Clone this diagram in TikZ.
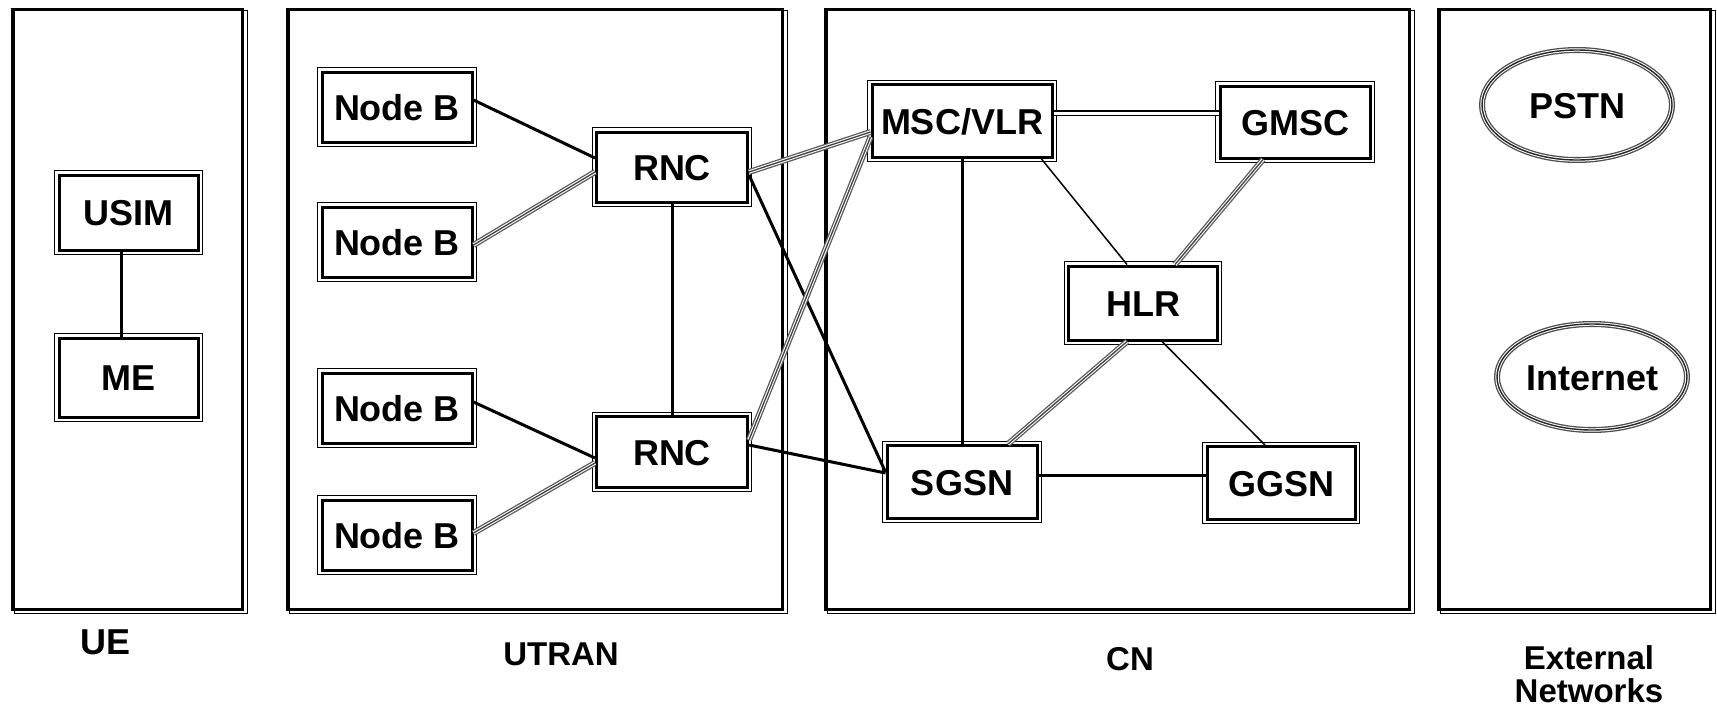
\documentclass[tikz,border=0pt]{standalone}
\usepackage{fontspec}
\setmainfont{Liberation Sans}
\usetikzlibrary{shapes.geometric}
\tikzset{
  frame/.style={draw, line width=3pt, inner sep=0pt},
  framecopy/.style={draw, line width=0.8pt},
  box/.style={draw, line width=3pt, fill=white, inner sep=0pt,
    text height=26pt, text depth=0pt,
    font=\fontsize{36}{40}\selectfont\bfseries},
  boxcopy/.style={draw, line width=0.9pt},
  net/.style={ellipse, draw=black!70, line width=6pt, fill=white, inner sep=0pt,
    text height=26pt, text depth=0pt,
    postaction={draw=white, line width=3.4pt},
    postaction={draw=black!85, line width=1.4pt},
    font=\fontsize{36}{40}\selectfont\bfseries},
  lbl/.style={align=center, inner sep=0pt, font=\fontsize{33}{33}\selectfont\bfseries},
  solidlink/.style={draw, line width=3pt},
  thinlink/.style={draw, line width=1.5pt},
  stripelink/.style={draw=black!65, line width=6pt,
    postaction={draw=white, line width=3.4pt},
    postaction={draw=black!75, line width=1.3pt}},
  dbllink/.style={draw, double, double distance=3pt, line width=1.3pt},
}
\begin{document}
\begin{tikzpicture}[x=1pt, y=-1pt]
\useasboundingbox (0,0) rectangle (1717,715);
\fill[white] (0,0) rectangle (1717,715);

% frames
\node[frame, minimum width=230pt, minimum height=600pt] (ueF) at (127,309) {};
\node[frame, minimum width=495pt, minimum height=600pt] (utranF) at (534.5,309) {};
\node[frame, minimum width=584pt, minimum height=600pt] (cnF) at (1117,309) {};
\node[frame, minimum width=272pt, minimum height=600pt] (extF) at (1574,309) {};
\foreach \f in {ueF,utranF,cnF,extF}
  \draw[framecopy] ([shift={(3.5,2.5)}]\f.north west) rectangle ([shift={(3.5,2.5)}]\f.south east);

% frame labels
\node[lbl, font=\fontsize{36}{38}\selectfont\bfseries] (ueL) at (106,642) {UE};
\node[lbl] (utranL) at (561,654) {UTRAN};
\node[lbl] (cnL) at (1130,659) {CN};
\node[lbl] (extL) at (1589,674) {External\\Networks};

% nodes
\node[box, minimum width=139pt, minimum height=75pt] (usim) at (128.5,212.5) {USIM};
\node[box, minimum width=139pt, minimum height=79pt] (me) at (128.5,377.5) {ME};

\node[box, minimum width=150pt, minimum height=70pt] (nb1) at (397,107) {Node B};
\node[box, minimum width=150pt, minimum height=70pt] (nb2) at (397,242) {Node B};
\node[box, minimum width=150pt, minimum height=70pt] (nb3) at (397,408) {Node B};
\node[box, minimum width=150pt, minimum height=70pt] (nb4) at (397,535) {Node B};

\node[box, minimum width=151pt, minimum height=70pt] (rnc1) at (672,167) {RNC};
\node[box, minimum width=151pt, minimum height=71pt] (rnc2) at (672,452) {RNC};

\node[box, minimum width=180pt, minimum height=73pt] (msc) at (962,121) {MSC/VLR};
\node[box, minimum width=150pt, minimum height=72pt] (gmsc) at (1295,122) {GMSC};
\node[box, minimum width=149pt, minimum height=74pt] (hlr) at (1143,303) {HLR};
\node[box, minimum width=150pt, minimum height=73pt] (sgsn) at (962,482) {SGSN};
\node[box, minimum width=148pt, minimum height=73pt] (ggsn) at (1281,483) {GGSN};

\foreach \n in {usim,me,nb1,nb2,nb3,nb4,rnc1,rnc2,msc,gmsc,hlr,sgsn,ggsn}
  \draw[boxcopy] ([shift={(-3,-3)}]\n.north west) rectangle ([shift={(2.5,2.5)}]\n.south east);

\node[net, minimum width=190pt, minimum height=110pt] (pstn) at (1577,105) {PSTN};
\node[net, minimum width=190pt, minimum height=106pt] (inet) at (1592,377) {Internet};

% connectors
\draw[solidlink] ([xshift=-7pt]usim.south) -- ([xshift=-7pt]me.north);

\draw[solidlink] ([yshift=7pt]nb1.east) -- ([yshift=9pt]rnc1.west);
\draw[stripelink] ([yshift=-3pt]nb2.east) -- ([yshift=-5pt]rnc1.west);
\draw[solidlink] ([yshift=6pt]nb3.east) -- ([yshift=-6pt]rnc2.west);
\draw[stripelink] ([yshift=2pt]nb4.east) -- ([yshift=-11pt]rnc2.west);

\draw[solidlink] (rnc1.south) -- (rnc2.north);

\draw[stripelink] ([yshift=-5pt]rnc1.east) -- ([yshift=-11pt]msc.west);
\draw[solidlink] ([yshift=-8pt]rnc1.east) -- ([yshift=10pt]sgsn.west);
\draw[stripelink] ([yshift=12pt]rnc2.east) -- ([yshift=-16pt]msc.west);
\draw[solidlink] ([yshift=7pt]rnc2.east) -- ([yshift=9pt]sgsn.west);

\draw[solidlink] (msc.south) -- (sgsn.north);
\draw[dbllink] ([yshift=8pt]msc.east) -- ([yshift=9pt]gmsc.west);
\draw[thinlink] ([xshift=-12pt]msc.south east) -- ([xshift=-16pt]hlr.north);
\draw[stripelink] ([xshift=-32pt]gmsc.south) -- ([xshift=32pt]hlr.north);
\draw[stripelink] ([xshift=-16pt]hlr.south) -- ([xshift=46pt]sgsn.north);
\draw[thinlink] ([xshift=19pt]hlr.south) -- ([xshift=-16pt]ggsn.north);
\draw[solidlink] ([yshift=7pt]sgsn.east) -- ([yshift=8pt]ggsn.west);
\end{tikzpicture}
\end{document}
